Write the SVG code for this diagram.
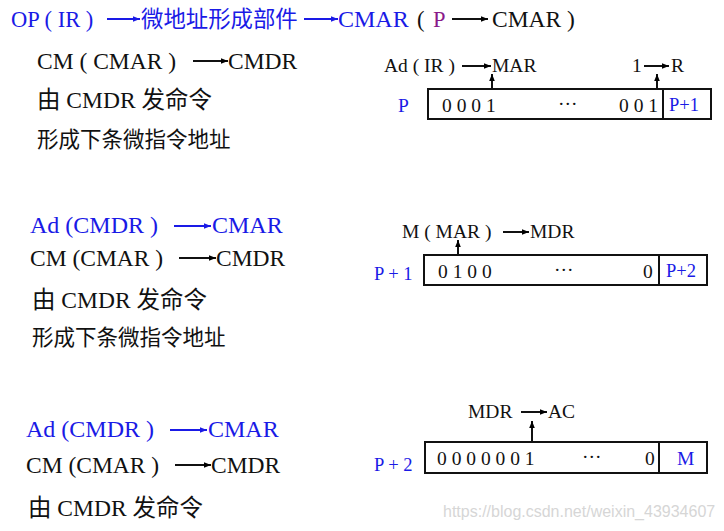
<svg xmlns="http://www.w3.org/2000/svg" width="724" height="531" viewBox="0 0 724 531">
<defs>
<marker id="ahk" viewBox="0 0 10 10" refX="10" refY="5" markerWidth="7" markerHeight="7" markerUnits="userSpaceOnUse" orient="auto"><path d="M0,1 L10,5 L0,9 z" fill="#000"/></marker>
<marker id="ahb" viewBox="0 0 10 10" refX="10" refY="5" markerWidth="7" markerHeight="7" markerUnits="userSpaceOnUse" orient="auto"><path d="M0,1 L10,5 L0,9 z" fill="#1a1ae6"/></marker>
</defs>
<style>
text{font-family:"Liberation Serif","Noto Sans CJK SC",serif;fill:#111}
.b{fill:#1a1ae6}
.p{fill:#8a1a8a}
.t22{font-size:22.5px}
.t24{font-size:24px}
.t23{font-size:23.5px}
.tc{font-size:21.5px}
.tz{font-size:22.4px}
.t19{font-size:19.5px}
.t18{font-size:18.5px}
.box{fill:#fff;stroke:#111;stroke-width:2}
.ak{stroke:#111;stroke-width:2;marker-end:url(#ahk)}
.ab{stroke:#1a1ae6;stroke-width:2;marker-end:url(#ahb)}
.wm{font-family:"Liberation Sans",sans-serif;font-size:16px;fill:#d6d6d6}
</style>
<rect width="724" height="531" fill="#fff"/>

<g id="left-texts">
<text x="11" y="27" class="t22 b">OP ( IR )</text>
<text x="141" y="27" class="tz b">微地址形成部件</text>
<text x="338" y="27" class="t24 b">CMAR</text>
<text x="417" y="27" class="t22">(</text>
<text x="433" y="27" class="t22 p">P</text>
<text x="492" y="27" class="t23">CMAR )</text>

<text x="37" y="69" class="t23">CM ( CMAR )</text>
<text x="228" y="69" class="t23">CMDR</text>
<text x="37" y="108" class="t23">由 CMDR 发命令</text>
<text x="37" y="147" class="tc">形成下条微指令地址</text>

<text x="30" y="233" class="t24 b">Ad (CMDR )</text>
<text x="212" y="233" class="t24 b">CMAR</text>
<text x="30" y="266" class="t23">CM (CMAR )</text>
<text x="216" y="266" class="t23">CMDR</text>
<text x="32" y="308" class="t23">由 CMDR 发命令</text>
<text x="32" y="345" class="tc">形成下条微指令地址</text>

<text x="26" y="437" class="t24 b">Ad (CMDR )</text>
<text x="208" y="437" class="t24 b">CMAR</text>
<text x="26" y="473" class="t23">CM (CMAR )</text>
<text x="211" y="473" class="t23">CMDR</text>
<text x="28" y="516" class="t23">由 CMDR 发命令</text>
</g>

<g id="word-p">
<text x="384" y="72" class="t19">Ad ( IR )</text>
<text x="492" y="72" class="t19">MAR</text>
<text x="632" y="72" class="t19">1</text>
<text x="671" y="72" class="t19">R</text>
<text x="398" y="112" class="t19 b">P</text>
<rect class="box" x="428" y="89" width="283" height="30"/>
<line x1="663" y1="89" x2="663" y2="119" stroke="#111" stroke-width="2"/>
<text x="442" y="112" class="t19">0 0 0 1</text>
<text x="558" y="110" class="t19">···</text>
<text x="619" y="112" class="t19">0 0 1</text>
<text x="669" y="111" class="t18 b">P+1</text>
</g>

<g id="word-p1">
<text x="402" y="238" class="t19">M ( MAR )</text>
<text x="530" y="238" class="t19">MDR</text>
<text x="374" y="280" class="t18 b">P + 1</text>
<rect class="box" x="424" y="255" width="283" height="30"/>
<line x1="659" y1="255" x2="659" y2="285" stroke="#111" stroke-width="2"/>
<text x="438" y="278" class="t19">0 1 0 0</text>
<text x="554" y="276" class="t19">···</text>
<text x="643" y="278" class="t19">0</text>
<text x="666" y="277" class="t18 b">P+2</text>
</g>

<g id="word-p2">
<text x="468" y="418" class="t19">MDR</text>
<text x="548" y="418" class="t19">AC</text>
<text x="374" y="471" class="t18 b">P + 2</text>
<rect class="box" x="425" y="442" width="282" height="31"/>
<line x1="659" y1="442" x2="659" y2="473" stroke="#111" stroke-width="2"/>
<text x="437" y="465" class="t19">0 0 0 0 0 0 1</text>
<text x="582" y="463" class="t19">···</text>
<text x="645" y="465" class="t19">0</text>
<text x="677" y="465" class="t19 b">M</text>
</g>

<g id="connectors">
<line class="ab" x1="107" y1="19" x2="140" y2="19"/>
<line class="ab" x1="304" y1="19" x2="338" y2="19"/>
<line class="ak" x1="452" y1="19" x2="488" y2="19"/>
<line class="ak" x1="193" y1="61" x2="228" y2="61"/>
<line class="ab" x1="174" y1="226" x2="211" y2="226"/>
<line class="ak" x1="179" y1="258" x2="216" y2="258"/>
<line class="ab" x1="170" y1="430" x2="207" y2="430"/>
<line class="ak" x1="175" y1="465" x2="211" y2="465"/>
<line class="ak" x1="462" y1="66" x2="491" y2="66"/>
<line class="ak" x1="644" y1="66" x2="669" y2="66"/>
<line class="ak" x1="503" y1="232" x2="529" y2="232"/>
<line class="ak" x1="521" y1="412" x2="547" y2="412"/>
<line class="ak" x1="492" y1="89" x2="492" y2="74"/>
<line class="ak" x1="657" y1="89" x2="657" y2="74"/>
<line class="ak" x1="458" y1="255" x2="458" y2="240"/>
<line class="ak" x1="532" y1="442" x2="532" y2="421"/>
</g>

<text class="wm" x="443" y="517">https://blog.csdn.net/weixin_43934607</text>
</svg>
